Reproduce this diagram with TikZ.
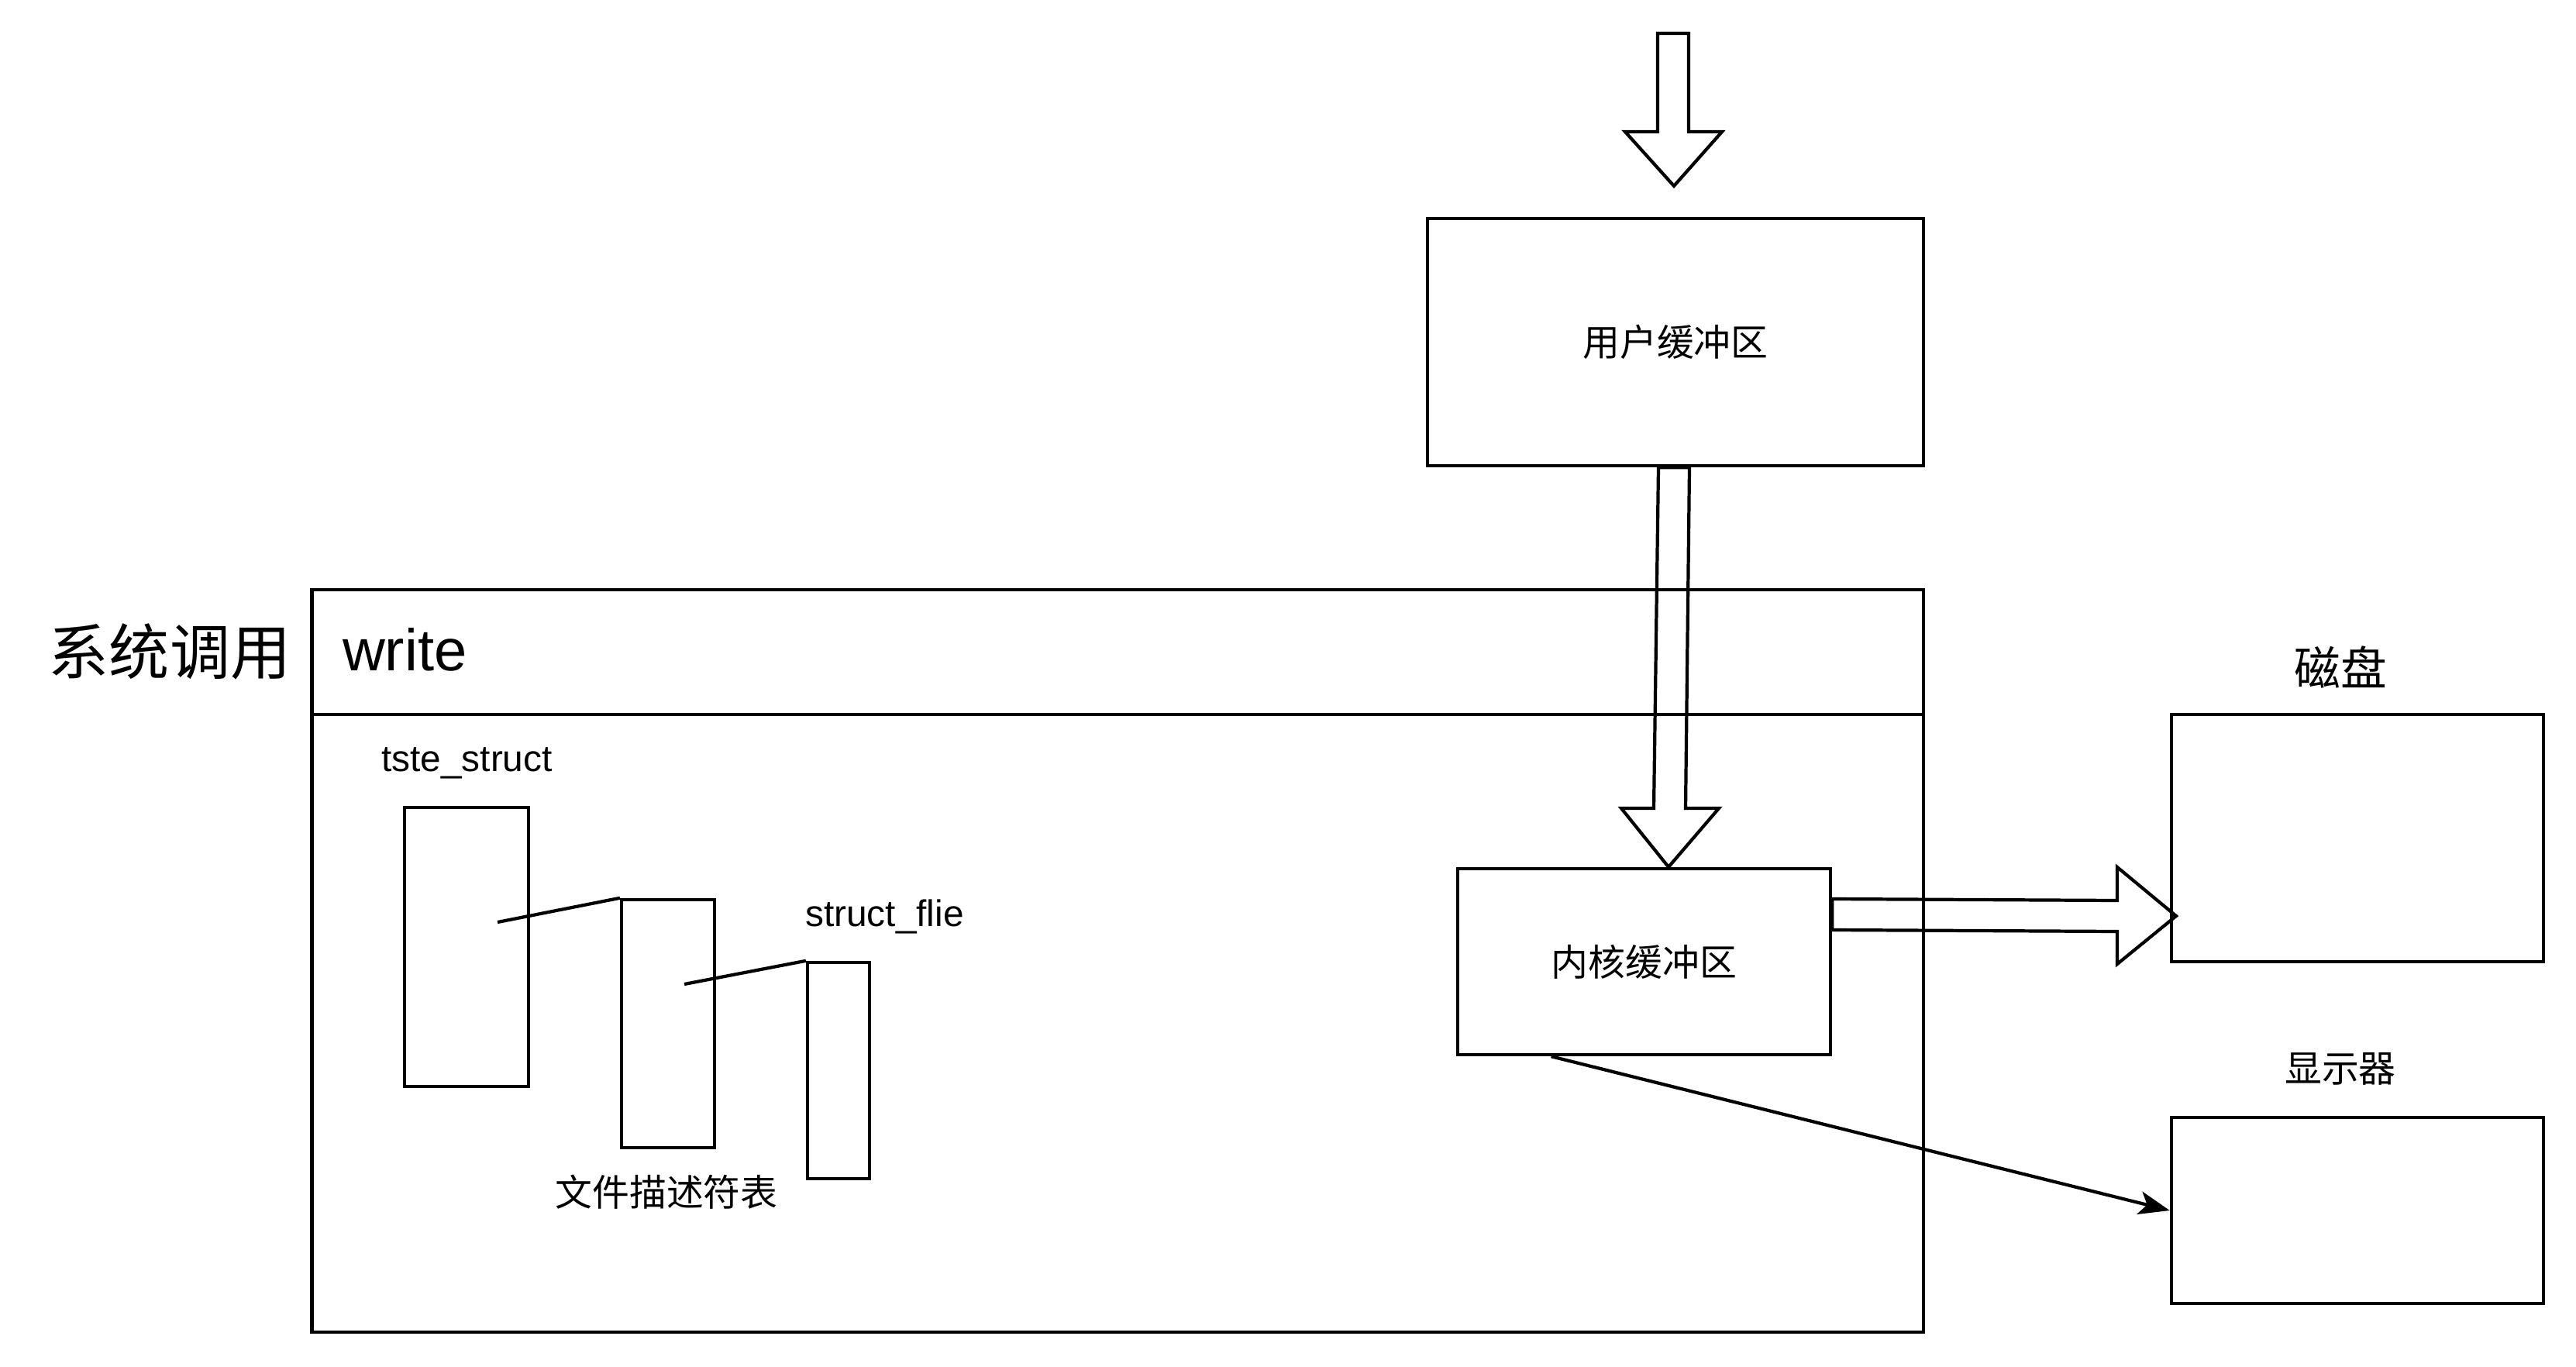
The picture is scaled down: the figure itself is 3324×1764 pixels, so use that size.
\documentclass[tikz,border=0pt]{standalone}
\usepackage{fontspec}
\setmainfont{Liberation Sans}
\newfontfamily\cjk{Noto Sans CJK SC}
\usetikzlibrary{arrows.meta,calc}
\begin{document}
\begin{tikzpicture}[x=0.01cm,y=-0.01cm,line width=1.2pt,line join=miter,
  box/.style={draw,line width=1.2pt,inner sep=0pt,anchor=center},
  cjktext/.style={inner sep=0pt,font=\cjk\fontsize{13.6}{16}\selectfont},
  lattext/.style={inner sep=0pt,font=\fontsize{13.6}{16}\selectfont},
  blockarrow/.style={draw,line width=1.2pt,line join=miter},
  flow/.style={draw,line width=1.2pt,-{Stealth[length=0.4cm,width=0.3cm,inset=0.1cm]}}]
\useasboundingbox (0,0) rectangle (3324,1764);
% boxes
\node[box,minimum width=6.40cm,minimum height=3.19cm,cjktext] (user) at (2162,441.5) {用户缓冲区};
\node[box,minimum width=20.78cm,minimum height=9.58cm] (sys) at (1442,1240) {};
\coordinate (divL) at (403,922);
\coordinate (divR) at (2481,922);
\draw (divL) -- (divR);
\node[box,minimum width=1.60cm,minimum height=3.60cm] (b1) at (602,1222) {};
\node[box,minimum width=1.20cm,minimum height=3.20cm] (b2) at (862,1321) {};
\node[box,minimum width=0.80cm,minimum height=2.79cm] (b3) at (1082,1381.5) {};
\node[box,minimum width=4.81cm,minimum height=2.40cm,cjktext] (kernel) at (2121.5,1241) {内核缓冲区};
\node[box,minimum width=4.80cm,minimum height=3.19cm] (disk) at (3042,1081.5) {};
\node[box,minimum width=4.80cm,minimum height=2.40cm] (disp) at (3042,1562) {};
% labels
\node[inner sep=0pt,font=\cjk\fontsize{22.2}{26}\selectfont] (syslbl) at (219,841) {系统调用};
\node[inner sep=0pt,anchor=base west,font=\fontsize{21.6}{26}\selectfont] (write) at (440,865) {write};
\node[lattext,anchor=base west] (tste) at (490,995) {tste\_struct};
\node[lattext,anchor=base west] (sfile) at (1037,1195) {struct\_flie};
\node[cjktext] (fdt) at (860,1538) {文件描述符表};
\node[inner sep=0pt,font=\cjk\fontsize{17}{20}\selectfont] (disklbl) at (3020,861) {磁盘};
\node[cjktext] (displbl) at (3020,1379) {显示器};
% pointer lines
\coordinate (p1) at (642,1190);
\coordinate (p2) at (883,1270);
\draw (p1) -- (b2.north west);
\draw (p2) -- (b3.north west);
% block arrow into user buffer
\draw[blockarrow] (2139,43) -- (2179,43) -- (2179,170) -- (2222,170) -- (2160,240) -- (2097,170) -- (2139,170) -- cycle;
% block arrow user -> kernel
\draw[blockarrow] ($(user.south)+(-22,0)$) -- ($(user.south)+(18,0)$) -- (2175,1043) -- (2218,1043)
  -- ($(kernel.north)+(31.5,0)$) -- (2092,1043) -- (2134,1043) -- cycle;
% block arrow kernel -> disk
\draw[blockarrow] ($(kernel.east)+(0,-81)$) -- (2732,1162) -- (2732,1119) -- (2808,1182)
  -- (2732,1244) -- (2732,1202) -- ($(kernel.east)+(0,-41)$) -- cycle;
% kernel -> display
\draw[flow] ($(kernel.south west)!0.253!(kernel.south east)$) -- (disp.west);
\end{tikzpicture}
\end{document}
